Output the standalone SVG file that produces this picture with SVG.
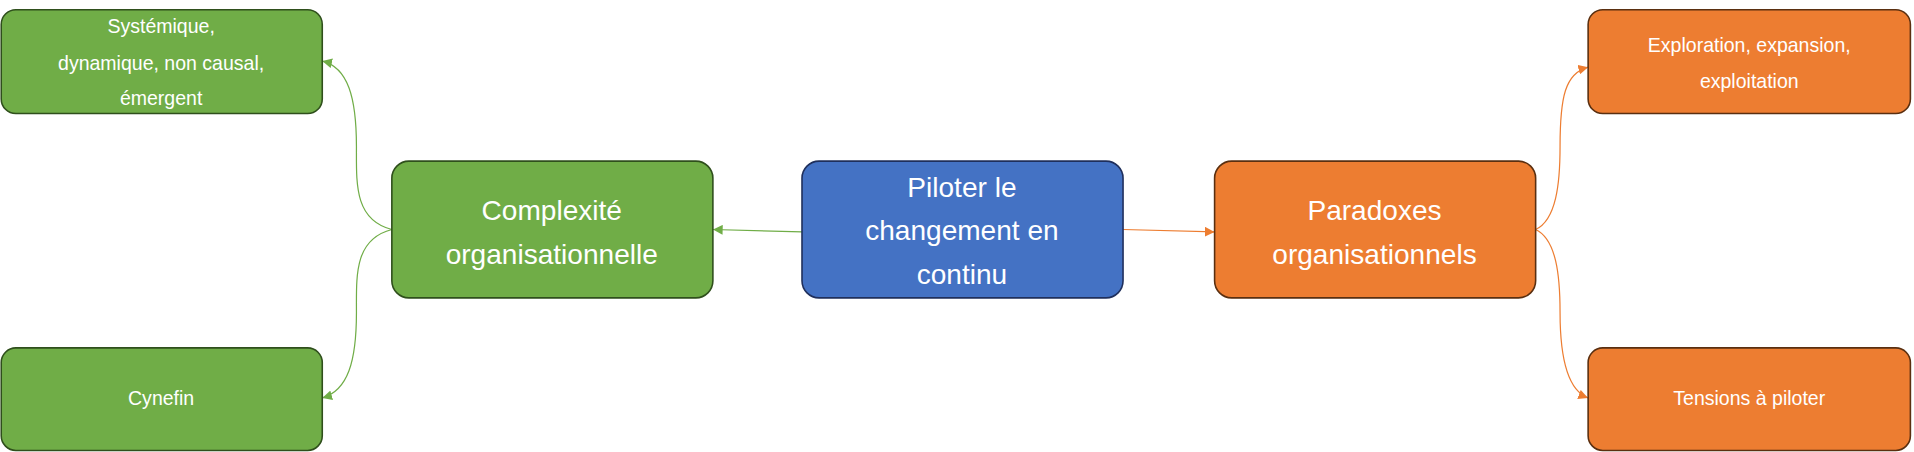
<svg xmlns="http://www.w3.org/2000/svg" width="1914" height="452" viewBox="0 0 1914 452">
<defs>
<style>
.g{fill:#70AD47;stroke:#2F4F1C;stroke-width:1.3}
.b{fill:#4472C4;stroke:#1F2F5C;stroke-width:1.3}
.o{fill:#ED7D31;stroke:#5A2F10;stroke-width:1.3}
text{font-family:"Liberation Sans",Arial,sans-serif;fill:#fff;text-anchor:middle}
.s{font-size:16px}
.l{font-size:23px}
.cg{fill:none;stroke:#70AD47;stroke-width:1}
.co{fill:none;stroke:#ED7D31;stroke-width:1}
</style>
<marker id="ag" viewBox="0 0 10 10" refX="10" refY="5" markerWidth="8" markerHeight="8" markerUnits="userSpaceOnUse" orient="auto"><path d="M0,0L10,5L0,10z" fill="#70AD47"/></marker>
<marker id="ao" viewBox="0 0 10 10" refX="10" refY="5" markerWidth="8" markerHeight="8" markerUnits="userSpaceOnUse" orient="auto"><path d="M0,0L10,5L0,10z" fill="#ED7D31"/></marker>
</defs>
<g transform="scale(1.2207)">
<g id="connectors">
<path class="cg" marker-end="url(#ag)" d="M657,190 L584,188"/>
<path class="co" marker-end="url(#ao)" d="M920,188 L995,190"/>
<path class="cg" marker-end="url(#ag)" d="M321,188 C290,180 292,150 292,120 C292,80 285,55 264,50"/>
<path class="cg" marker-end="url(#ag)" d="M321,188 C290,196 292,226 292,256 C292,296 285,320 264,326"/>
<path class="co" marker-end="url(#ao)" d="M1258,188 C1275,180 1278,150 1278,120 C1278,80 1282,60 1301,55"/>
<path class="co" marker-end="url(#ao)" d="M1258,188 C1275,196 1278,226 1278,256 C1278,296 1285,320 1301,326"/>
</g>
<g id="n1"><rect class="g" x="1" y="8" width="263" height="85" rx="12"/><text class="s" x="132" y="27">Systémique,</text><text class="s" x="132" y="57">dynamique, non causal,</text><text class="s" x="132" y="86">émergent</text></g>
<g id="n2"><rect class="g" x="1" y="285" width="263" height="84" rx="12"/><text class="s" x="132" y="332">Cynefin</text></g>
<g id="n3"><rect class="g" x="321" y="132" width="263" height="112" rx="14"/><text class="l" x="452" y="180">Complexité</text><text class="l" x="452" y="216">organisationnelle</text></g>
<g id="n4"><rect class="b" x="657" y="132" width="263" height="112" rx="14"/><text class="l" x="788" y="161">Piloter le</text><text class="l" x="788" y="197">changement en</text><text class="l" x="788" y="233">continu</text></g>
<g id="n5"><rect class="o" x="995" y="132" width="263" height="112" rx="14"/><text class="l" x="1126" y="180">Paradoxes</text><text class="l" x="1126" y="216">organisationnels</text></g>
<g id="n6"><rect class="o" x="1301" y="8" width="264" height="85" rx="12"/><text class="s" x="1433" y="43">Exploration, expansion,</text><text class="s" x="1433" y="72">exploitation</text></g>
<g id="n7"><rect class="o" x="1301" y="285" width="264" height="84" rx="12"/><text class="s" x="1433" y="332">Tensions à piloter</text></g>
</g>
</svg>
